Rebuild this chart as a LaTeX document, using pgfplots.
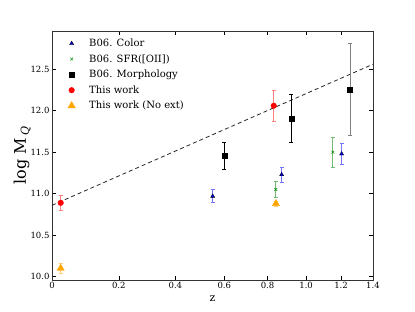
\documentclass[border=0pt]{standalone}
\usepackage{pgfplots}
\pgfplotsset{compat=1.18}
\usepackage{fontspec}
\setmainfont{DejaVu Serif}
\definecolor{lblue}{rgb}{0.45,0.45,1}
\definecolor{lred}{rgb}{1,0.5,0.5}
\definecolor{lgreen}{rgb}{0.45,0.72,0.45}
\definecolor{mgreen}{rgb}{0,0.55,0}
\definecolor{orng}{rgb}{1,0.65,0}
\definecolor{lorng}{rgb}{1,0.8,0.45}
\pgfplotsset{mylegimg/.style={legend image code/.code={\path[draw=none,fill=none] (0cm,0cm) -- (0.65cm,0cm);\draw[##1, only marks] plot coordinates {(0.1cm,0cm)};}}}
\begin{document}
\begin{tikzpicture}
\useasboundingbox (-52bp,-32bp) rectangle (363bp,280bp);
\begin{axis}[
  at={(0,0)}, anchor=south west,
  scale only axis, width=321bp, height=249bp,
  xmin=0, xmax=1.4, ymin=9.96, ymax=12.96,
  x coord trafo/.code={\pgfmathparse{log10(1+#1)}},
  x coord inv trafo/.code={\pgfmathparse{10^(#1)-1}},
  xtick={0,0.2,0.4,0.6,0.8,1.0,1.2,1.4},
  xticklabels={0,0.2,0.4,0.6,0.8,1.0,1.2,1.4},
  ytick={10,10.5,11,11.5,12,12.5},
  yticklabels={10.0,10.5,11.0,11.5,12.0,12.5},
  tick align=inside, major tick length=4bp,
  tick style={black, line width=0.5bp},
  axis line style={line width=0.9bp, black!80},
  tick label style={font=\fontsize{8.5bp}{10bp}\selectfont, black},
  xticklabel style={yshift=1bp},
  yticklabel style={xshift=1bp},
  xlabel={z}, ylabel={log M\,\raisebox{-3bp}{\fontsize{11bp}{11bp}\selectfont\itshape Q}},
  xlabel style={font=\fontsize{11bp}{12bp}\selectfont, yshift=0bp},
  ylabel style={font=\fontsize{16bp}{18bp}\selectfont, yshift=-7bp},
  legend style={draw=none, fill=none, at={(0.04,0.985)}, anchor=north west,
    font=\fontsize{10bp}{12bp}\selectfont, row sep=2.5bp},
  legend cell align=left,
  clip=false,
]
% dashed fit line
\addplot[forget plot, no marks, black!85, line width=0.8bp, dash pattern=on 4bp off 3bp]
  coordinates {(0,10.86) (1.4,12.56)};
% B06 Color
\addplot[only marks, mylegimg, mark=triangle*, mark size=2.4bp,
  mark options={fill=blue!85!black, draw=black, line width=0.3bp},
  error bars/.cd, y dir=both, y explicit,
  error bar style={lblue, line width=0.8bp},
  error mark options={lblue, mark size=2bp, line width=0.8bp, rotate=90}]
  table[x=z, y=m, y error=e] {
z m e
0.550 10.97 0.08
0.871 11.23 0.09
1.203 11.48 0.13
};
\addlegendentry{B06. Color}
% B06 SFR
\addplot[only marks, mylegimg, mark=x, mark size=2bp, mark options={mgreen, line width=0.5bp},
  error bars/.cd, y dir=both, y explicit,
  error bar style={lgreen, line width=0.8bp},
  error mark options={lgreen, mark size=2bp, line width=0.8bp, rotate=90}]
  table[x=z, y=m, y error=e] {
z m e
0.841 11.05 0.10
1.151 11.50 0.18
};
\addlegendentry{B06. SFR([OII])}
% B06 Morphology
\addplot[only marks, mylegimg, mark=square*, mark size=2.4bp, mark options={fill=black, draw=black},
  error bars/.cd, y dir=both, y explicit,
  error bar style={black, line width=0.8bp},
  error mark options={black, mark size=2bp, line width=0.8bp, rotate=90}]
  table[x=z, y=m, y error=e] {
z m e
0.600 11.456 0.16
0.921 11.906 0.29
};
\addlegendentry{B06. Morphology}
\addplot[forget plot, only marks, mark=square*, mark size=2.4bp, mark options={fill=black, draw=black},
  error bars/.cd, y dir=both, y explicit,
  error bar style={black!50, line width=0.8bp},
  error mark options={black!50, mark size=2bp, line width=0.8bp, rotate=90}]
  table[x=z, y=m, y error=e] {
z m e
1.254 12.255 0.55
};
% This work
\addplot[only marks, mylegimg, mark=*, mark size=2.8bp, mark options={fill=red, draw=red},
  error bars/.cd, y dir=both, y explicit,
  error bar style={lred, line width=0.8bp},
  error mark options={lred, mark size=2bp, line width=0.8bp, rotate=90}]
  table[x=z, y=m, y error=e] {
z m e
0.024 10.89 0.095
0.831 12.06 0.185
};
\addlegendentry{This work}
% This work (No ext)
\addplot[only marks, mylegimg, mark=triangle*, mark size=4.2bp, mark options={fill=orng, draw=orng},
  error bars/.cd, y dir=both, y explicit,
  error bar style={lorng, line width=0.8bp},
  error mark options={lorng, mark size=2bp, line width=0.8bp, rotate=90}]
  table[x=z, y=m, y error=e] {
z m e
0.024 10.10 0.06
0.842 10.88 0.03
};
\addlegendentry{This work (No ext)}
\end{axis}
\end{tikzpicture}
\end{document}
